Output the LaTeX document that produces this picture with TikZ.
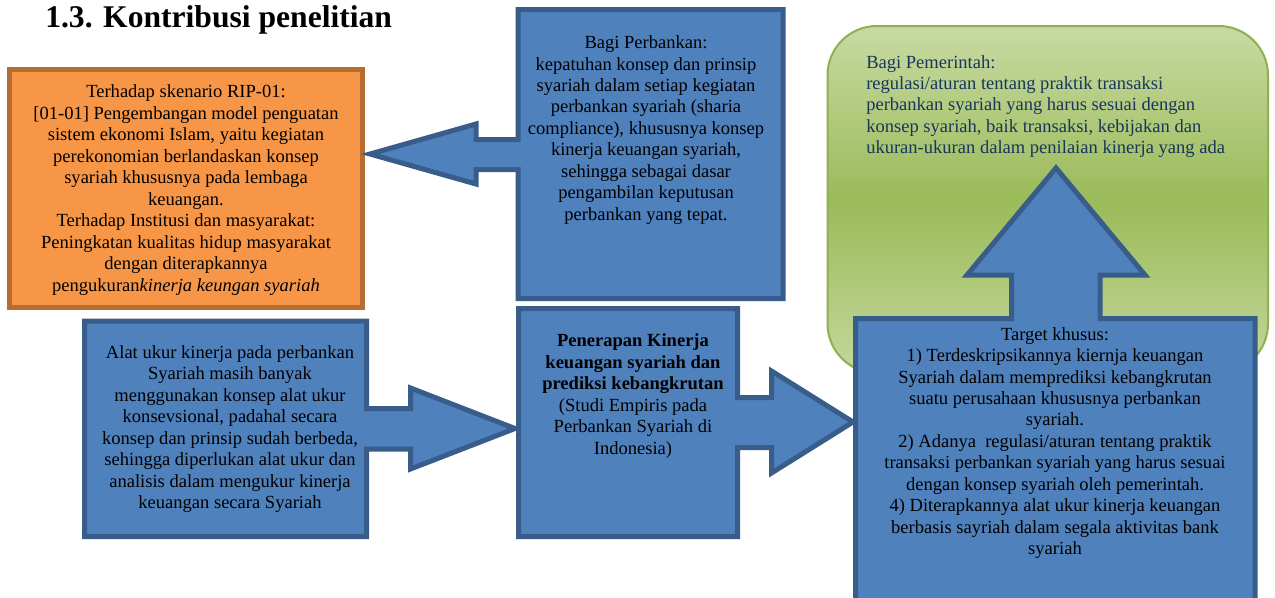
\documentclass[tikz,border=0pt]{standalone}
\usepackage{fontspec}
\setmainfont{Liberation Serif}

\definecolor{blueFill}{HTML}{4F81BD}
\definecolor{blueLine}{HTML}{385D8A}
\definecolor{orangeFill}{HTML}{F79646}
\definecolor{orangeLine}{HTML}{B66D31}
\definecolor{greenDark}{HTML}{9BBB59}
\definecolor{greenLight}{HTML}{C8DAA3}
\definecolor{greenLine}{HTML}{8DB052}
\definecolor{navyText}{HTML}{17365D}

\tikzset{
	bluebox/.style={fill=blueFill, draw=blueLine, line width=3.75pt},
	orangebox/.style={fill=orangeFill, draw=orangeLine, line width=3.75pt},
	greenbox/.style={draw=greenLine, line width=1.5pt, rounded corners=37pt,
		top color=greenLight, bottom color=greenLight!90!greenDark, middle color=greenDark},
	bodytext/.style={inner sep=0pt, align=center, font=\fontsize{13.9}{16.1}\selectfont},
}

\begin{document}
\begin{tikzpicture}[x=0.75pt, y=-0.75pt]

	\useasboundingbox (0,0) rectangle (1275,597);
	\clip (0,0) rectangle (1275,597);

	% Title
	\node[anchor=base west, inner sep=0pt, font=\fontsize{23.7}{28}\selectfont\bfseries] (title) at (45,27) {1.3. Kontribusi penelitian};

	% Left box: contribution
	\draw[orangebox] (9.5,69.5) rectangle (362.5,307.5);
	\node[bodytext] (riptext) at (186,190) {Terhadap skenario RIP-01:\\
		{[01-01]} Pengembangan model penguatan\\
		sistem ekonomi Islam, yaitu kegiatan\\
		perekonomian berlandaskan konsep\\
		syariah khususnya pada lembaga\\
		keuangan.\\
		Terhadap Institusi dan masyarakat:\\
		Peningkatan kualitas hidup masyarakat\\
		dengan diterapkannya\\
		pengukuran\textit{kinerja keungan syariah}};

	% Green box: government
	\draw[greenbox] (827.5,26) rectangle (1268,373);
	\node[inner sep=0pt, align=left, anchor=west, text=navyText, font=\fontsize{13.9}{16.1}\selectfont] (pemerintah) at (866,106.5) {Bagi Pemerintah:\\
		regulasi/aturan tentang praktik transaksi\\
		perbankan syariah yang harus sesuai dengan\\
		konsep syariah, baik transaksi, kebijakan dan\\
		ukuran-ukuran dalam penilaian kinerja yang ada};

	% Callout pointing left: banking
	\draw[bluebox] (518,9.5) -- (783,9.5) -- (783,298.5) -- (518,298.5) -- (518,169.5) -- (476,169.5)
		-- (476,184) -- (370,154) -- (476,124) -- (476,139.5) -- (518,139.5) -- cycle;
	\node[bodytext] (perbankan) at (646,130) {Bagi Perbankan:\\
		kepatuhan konsep dan prinsip\\
		syariah dalam setiap kegiatan\\
		perbankan syariah (sharia\\
		compliance), khususnya konsep\\
		kinerja keuangan syariah,\\
		sehingga sebagai dasar\\
		pengambilan keputusan\\
		perbankan yang tepat.};

	% Callout pointing right: problem
	\draw[bluebox] (84.5,321) -- (366.5,321) -- (366.5,408.5) -- (410.5,408.5) -- (410.5,388) -- (515,428.5)
		-- (410.5,469) -- (410.5,449) -- (366.5,449) -- (366.5,536.5) -- (84.5,536.5) -- cycle;
	\node[bodytext] (masalah) at (230,429) {Alat ukur kinerja pada perbankan\\
		Syariah masih banyak\\
		menggunakan konsep alat ukur\\
		konsevsional, padahal secara\\
		konsep dan prinsip sudah berbeda,\\
		sehingga diperlukan alat ukur dan\\
		analisis dalam mengukur kinerja\\
		keuangan secara Syariah};

	% Callout pointing right: research
	\draw[bluebox] (518.5,308.5) -- (737.5,308.5) -- (737.5,397.5) -- (771.5,397.5) -- (771.5,371) -- (853,422)
		-- (771.5,473) -- (771.5,447.5) -- (737.5,447.5) -- (737.5,536.5) -- (518.5,536.5) -- cycle;
	\node[bodytext] (penelitian) at (633,396) {\textbf{Penerapan Kinerja}\\
		\textbf{keuangan syariah dan}\\
		\textbf{prediksi kebangkrutan}\\
		(Studi Empiris pada\\
		Perbankan Syariah di\\
		Indonesia)};

	% Callout pointing up: targets
	\draw[bluebox] (855.5,318.5) -- (1011.5,318.5) -- (1011.5,275) -- (967,275) -- (1056,168) -- (1145,275)
		-- (1100,275) -- (1100,318.5) -- (1255,318.5) -- (1255,620) -- (855.5,620) -- cycle;
	\node[bodytext] (target) at (1055,443) {Target khusus:\\
		1) Terdeskripsikannya kiernja keuangan\\
		Syariah dalam memprediksi kebangkrutan\\
		suatu perusahaan khususnya perbankan\\
		syariah.\\
		2) Adanya\ \ regulasi/aturan tentang praktik\\
		transaksi perbankan syariah yang harus sesuai\\
		dengan konsep syariah oleh pemerintah.\\
		4) Diterapkannya alat ukur kinerja keuangan\\
		berbasis sayriah dalam segala aktivitas bank\\
		syariah};

\end{tikzpicture}
\end{document}
